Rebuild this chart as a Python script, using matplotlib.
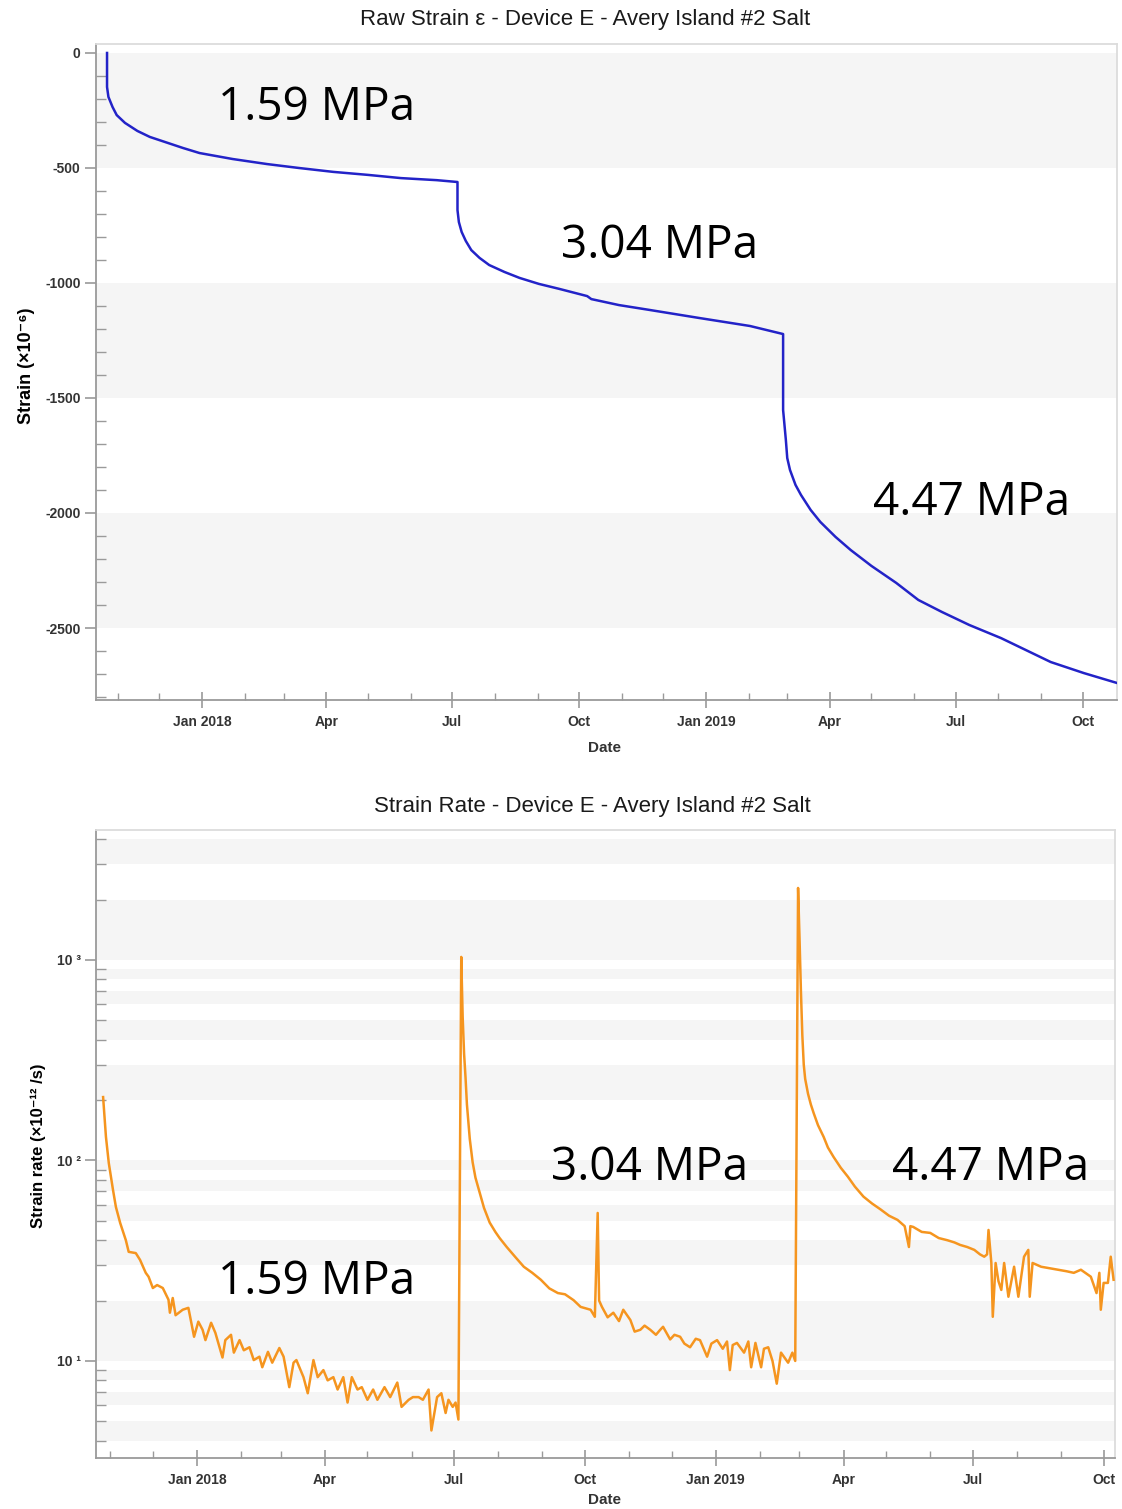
import matplotlib
matplotlib.use("Agg")
import matplotlib.pyplot as plt
import matplotlib.dates as mdates
import matplotlib.ticker as mticker
import pandas as pd

plt.rcParams["axes.unicode_minus"] = False

# ---- data ----
strain_dates = [
    "2017-10-24", "2017-10-24", "2017-10-25", "2017-10-28", "2017-10-31",
    "2017-11-06", "2017-11-15", "2017-11-24", "2017-12-07", "2017-12-18",
    "2017-12-30", "2018-01-23", "2018-02-17", "2018-03-12", "2018-04-06",
    "2018-05-01", "2018-05-25", "2018-06-20", "2018-07-05", "2018-07-05",
    "2018-07-06", "2018-07-08", "2018-07-11", "2018-07-15", "2018-07-21",
    "2018-07-28", "2018-08-08", "2018-08-19", "2018-09-02", "2018-09-17",
    "2018-10-07", "2018-10-10", "2018-10-30", "2018-11-21", "2018-12-27",
    "2019-02-02", "2019-02-26", "2019-02-26", "2019-02-28", "2019-03-01",
    "2019-03-03", "2019-03-07", "2019-03-11", "2019-03-18", "2019-03-25",
    "2019-04-05", "2019-04-16", "2019-05-01", "2019-05-19", "2019-06-04",
    "2019-06-21", "2019-07-11", "2019-08-03", "2019-08-21", "2019-09-08",
    "2019-10-02", "2019-10-26",
]
strain_values = [
    0, -148, -191, -235, -270,
    -304, -339, -365, -391, -413,
    -435, -461, -483, -500, -517,
    -530, -544, -553, -561, -683,
    -735, -778, -817, -857, -891,
    -922, -952, -978, -1004, -1026,
    -1057, -1070, -1096, -1117, -1152,
    -1187, -1222, -1552, -1683, -1761,
    -1813, -1878, -1922, -1987, -2039,
    -2104, -2161, -2230, -2304, -2378,
    -2430, -2487, -2544, -2596, -2648,
    -2696, -2739,
]

rate_dates = [
    "2017-10-27", "2017-10-29", "2017-10-31", "2017-11-03", "2017-11-05",
    "2017-11-08", "2017-11-12", "2017-11-14", "2017-11-19", "2017-11-22",
    "2017-11-26", "2017-11-28", "2017-12-01", "2017-12-04", "2017-12-08",
    "2017-12-12", "2017-12-13", "2017-12-15", "2017-12-17", "2017-12-22",
    "2017-12-26", "2017-12-30", "2018-01-02", "2018-01-05", "2018-01-07",
    "2018-01-11", "2018-01-14", "2018-01-19", "2018-01-21", "2018-01-25",
    "2018-01-27", "2018-01-31", "2018-02-03", "2018-02-07", "2018-02-10",
    "2018-02-14", "2018-02-16", "2018-02-20", "2018-02-23", "2018-02-28",
    "2018-03-03", "2018-03-07", "2018-03-10", "2018-03-12", "2018-03-17",
    "2018-03-20", "2018-03-24", "2018-03-27", "2018-03-31", "2018-04-03",
    "2018-04-07", "2018-04-10", "2018-04-14", "2018-04-17", "2018-04-20",
    "2018-04-24", "2018-04-27", "2018-05-01", "2018-05-05", "2018-05-08",
    "2018-05-13", "2018-05-17", "2018-05-22", "2018-05-25", "2018-05-30",
    "2018-06-02", "2018-06-06", "2018-06-09", "2018-06-13", "2018-06-15",
    "2018-06-19", "2018-06-22", "2018-06-25", "2018-06-27", "2018-06-30",
    "2018-07-02", "2018-07-04", "2018-07-06", "2018-07-07", "2018-07-08",
    "2018-07-09", "2018-07-10", "2018-07-12", "2018-07-14", "2018-07-16",
    "2018-07-19", "2018-07-22", "2018-07-26", "2018-07-30", "2018-08-02",
    "2018-08-07", "2018-08-13", "2018-08-19", "2018-08-25", "2018-08-31",
    "2018-09-06", "2018-09-12", "2018-09-17", "2018-09-23", "2018-09-28",
    "2018-10-05", "2018-10-08", "2018-10-10", "2018-10-11", "2018-10-13",
    "2018-10-17", "2018-10-21", "2018-10-25", "2018-10-28", "2018-11-02",
    "2018-11-05", "2018-11-09", "2018-11-12", "2018-11-16", "2018-11-20",
    "2018-11-23", "2018-11-25", "2018-11-30", "2018-12-03", "2018-12-07",
    "2018-12-10", "2018-12-14", "2018-12-18", "2018-12-21", "2018-12-26",
    "2018-12-29", "2019-01-02", "2019-01-06", "2019-01-09", "2019-01-11",
    "2019-01-13", "2019-01-16", "2019-01-21", "2019-01-24", "2019-01-26",
    "2019-01-29", "2019-02-02", "2019-02-04", "2019-02-07", "2019-02-10",
    "2019-02-13", "2019-02-16", "2019-02-21", "2019-02-24", "2019-02-26",
    "2019-02-28", "2019-03-01", "2019-03-02", "2019-03-03", "2019-03-04",
    "2019-03-05", "2019-03-07", "2019-03-09", "2019-03-11", "2019-03-14",
    "2019-03-18", "2019-03-21", "2019-03-25", "2019-03-30", "2019-04-04",
    "2019-04-09", "2019-04-15", "2019-04-21", "2019-04-27", "2019-05-03",
    "2019-05-09", "2019-05-14", "2019-05-17", "2019-05-18", "2019-05-20",
    "2019-05-26", "2019-06-01", "2019-06-07", "2019-06-13", "2019-06-18",
    "2019-06-22", "2019-06-27", "2019-07-02", "2019-07-06", "2019-07-09",
    "2019-07-11", "2019-07-12", "2019-07-14", "2019-07-15", "2019-07-17",
    "2019-07-19", "2019-07-21", "2019-07-23", "2019-07-26", "2019-07-30",
    "2019-08-02", "2019-08-06", "2019-08-09", "2019-08-10", "2019-08-12",
    "2019-08-18", "2019-08-24", "2019-08-30", "2019-09-05", "2019-09-10",
    "2019-09-15", "2019-09-22", "2019-09-26", "2019-09-28", "2019-09-29",
    "2019-10-01", "2019-10-04", "2019-10-06", "2019-10-08",
]
rate_values = [
    207, 131, 97, 71, 58.6,
    48.8, 40, 35, 34.5, 31.9,
    27.5, 26.3, 23.1, 23.9, 23.1,
    20.2, 17.4, 20.6, 16.9, 18.0,
    18.4, 13.2, 15.7, 14.3, 12.7,
    15.5, 13.8, 10.4, 12.7, 13.5,
    11.0, 12.7, 11.3, 11.7, 10.1,
    10.5, 9.3, 11.1, 9.8, 11.6,
    10.5, 7.4, 9.8, 10.1, 8.3,
    6.9, 10.1, 8.3, 9.0, 8.0,
    8.3, 7.2, 8.3, 6.2, 8.3,
    7.2, 7.4, 6.4, 7.2, 6.4,
    7.4, 6.6, 7.8, 5.9, 6.4,
    6.6, 6.6, 6.4, 7.2, 4.5,
    6.6, 6.9, 5.5, 6.4, 5.9,
    6.2, 5.1, 1035, 520, 340,
    260, 190, 128, 98, 82,
    69, 58, 49, 44, 41,
    37, 33, 29.5, 27.5, 25.4,
    23, 21.8, 21.5, 20.1, 18.6,
    18.0, 16.6, 54.7, 20, 18.6,
    16.5, 17.4, 15.8, 18.0, 16.0,
    14.0, 14.3, 15.0, 14.3, 13.5,
    14.3, 14.8, 12.8, 13.5, 13.2,
    12.2, 11.7, 12.9, 12.7, 10.5,
    12.2, 12.7, 11.5, 12.5, 9.0,
    12.0, 12.3, 11.0, 12.5, 9.3,
    12.3, 9.3, 11.5, 11.7, 10.0,
    7.7, 11.0, 9.8, 11.0, 10.0,
    2285, 1300, 700, 420, 300,
    255, 215, 190, 172, 150,
    131, 116, 104, 92, 83,
    74, 66, 61, 57, 53,
    50.5, 47, 37, 47, 46.6,
    44, 43.5, 41, 40, 39,
    37.9, 37, 35.8, 34, 33.1,
    34, 45, 30.8, 16.6, 30.8,
    25, 22.6, 30.8, 20.9, 29.5,
    20.9, 33.1, 35.8, 20.9, 30.8,
    29.5, 29, 28.5, 28, 27.5,
    28.5, 26.3, 21.8, 27.5, 18.0,
    24.5, 24.5, 33.1, 25.4,
]

stress_labels = ["1.59 MPa", "3.04 MPa", "4.47 MPa"]

# ---- figure ----
W, H = 1122, 1509
fig = plt.figure(figsize=(W / 100, H / 100), dpi=100)
fig.patch.set_facecolor("white")

label_font = ["Liberation Sans", "DejaVu Sans"]
band = "#f5f5f5"
tick_col = "#9a9a9a"
txt_col = "#333333"


def px_axes(l, t, r, b):
    return [l / W, 1 - b / H, (r - l) / W, (b - t) / H]


def date_fmt(x, pos=None):
    d = mdates.num2date(x)
    return d.strftime("Jan %Y") if d.month == 1 else d.strftime("%b")


def style_axes(ax):
    for s in ["left", "bottom"]:
        ax.spines[s].set_color(tick_col)
        ax.spines[s].set_linewidth(1.3)
    for s in ["top", "right"]:
        ax.spines[s].set_color("#dcdcdc")
        ax.spines[s].set_linewidth(1.3)
    ax.xaxis.set_major_locator(mdates.MonthLocator(bymonth=[1, 4, 7, 10]))
    ax.xaxis.set_minor_locator(mdates.MonthLocator())
    ax.xaxis.set_major_formatter(mticker.FuncFormatter(date_fmt))
    ax.tick_params(axis="x", which="major", direction="inout", length=12,
                   width=1.2, color=tick_col, pad=5)
    ax.tick_params(axis="x", which="minor", direction="in", length=5,
                   width=1.0, color=tick_col)
    ax.tick_params(axis="y", which="major", direction="out", length=8,
                   width=1.2, color=tick_col, pad=3)
    ax.tick_params(axis="y", which="minor", direction="in", length=7,
                   width=1.0, color=tick_col)
    for lab in ax.get_xticklabels() + ax.get_yticklabels():
        lab.set_fontfamily(label_font)
        lab.set_fontweight("bold")
        lab.set_fontsize(10)
        lab.set_color(txt_col)


# ---- top: raw strain ----
ax1 = fig.add_axes(px_axes(96, 44, 1117, 700))
sd = pd.to_datetime(strain_dates)
ax1.plot(sd, strain_values, color="#2323c8", lw=1.8, zorder=3)
ax1.set_xlim(pd.Timestamp("2017-10-16"), pd.Timestamp("2019-10-26"))
ax1.set_ylim(-2813, 39)
for hi in [0, -1000, -2000]:
    ax1.axhspan(hi - 500, hi, color=band, lw=0, zorder=0)
ax1.yaxis.set_major_locator(mticker.MultipleLocator(500))
ax1.yaxis.set_minor_locator(mticker.MultipleLocator(100))
style_axes(ax1)
ax1.set_xlabel("Date", fontfamily=label_font, fontweight="bold",
               fontsize=11, color=txt_col)
ax1.xaxis.set_label_coords(0.4985, -0.0625)
ax1.set_ylabel("Strain (×10⁻⁶)", fontfamily=label_font, fontweight="bold",
               fontsize=13, color="black")
ax1.yaxis.set_label_coords(-0.060, 0.51)

# ---- bottom: strain rate ----
ax2 = fig.add_axes(px_axes(96, 830, 1115, 1458))
rd = pd.to_datetime(rate_dates)
ax2.plot(rd, rate_values, color="#f5951f", lw=1.8, zorder=3)
ax2.set_yscale("log")
ylo, yhi = 3.28, 4446
ax2.set_ylim(ylo, yhi)
ax2.set_xlim(pd.Timestamp("2017-10-22"), pd.Timestamp("2019-10-09"))
edges = sorted([k * 10 ** n for n in range(0, 4) for k in range(1, 10)
                if ylo < k * 10 ** n < yhi], reverse=True)
for i in range(len(edges) - 1):
    if i % 2 == 0:
        ax2.axhspan(edges[i + 1], edges[i], color=band, lw=0, zorder=0)
ax2.yaxis.set_major_locator(mticker.FixedLocator([10, 100, 1000]))
ax2.yaxis.set_major_formatter(mticker.FuncFormatter(
    lambda v, p: {10: "10 ¹", 100: "10 ²", 1000: "10 ³"}.get(int(round(v)), "")))
ax2.yaxis.set_minor_locator(mticker.LogLocator(base=10, subs=range(2, 10)))
ax2.yaxis.set_minor_formatter(mticker.NullFormatter())
style_axes(ax2)
ax2.set_xlabel("Date", fontfamily=label_font, fontweight="bold",
               fontsize=11, color=txt_col)
ax2.xaxis.set_label_coords(0.4995, -0.056)
ax2.set_ylabel("Strain rate (×10⁻¹² /s)", fontfamily=label_font,
               fontweight="bold", fontsize=12, color="black")
ax2.yaxis.set_label_coords(-0.049, 0.498)

# ---- titles and annotations ----
fig.text(585 / W, 1 - 20 / H, "Raw Strain ε - Device E - Avery Island #2 Salt",
         ha="center", va="center", fontsize=16, family=label_font, color="#1a1a1a")
fig.text(592 / W, 1 - 806 / H, "Strain Rate - Device E - Avery Island #2 Salt",
         ha="center", va="center", fontsize=16, family=label_font, color="#1a1a1a")

top_pos = [(317, 108), (660, 246), (972, 503)]
bot_pos = [(317, 1282), (650, 1168), (991, 1168)]
for lab, (x, y) in zip(stress_labels, top_pos):
    fig.text(x / W, 1 - y / H, lab, ha="center", va="center",
             fontsize=33, family="Open Sans", color="black")
for lab, (x, y) in zip(stress_labels, bot_pos):
    fig.text(x / W, 1 - y / H, lab, ha="center", va="center",
             fontsize=33, family="Open Sans", color="black")

fig.savefig("out.png", dpi=100, facecolor="white")
